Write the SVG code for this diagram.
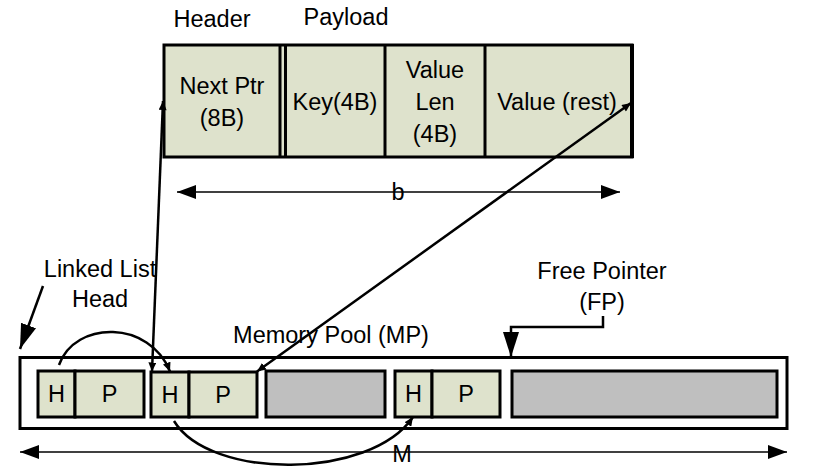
<svg xmlns="http://www.w3.org/2000/svg" width="821" height="473" viewBox="0 0 821 473">
<style>
text{font-family:"Liberation Sans",Arial,sans-serif;font-size:23.5px;fill:#000;text-anchor:middle}
.cell{fill:#dee2cc;stroke:#000;stroke-width:3}
.gray{fill:#bfbfbf;stroke:#000;stroke-width:3}
.div{stroke:#000;stroke-width:3}
.conn{fill:none;stroke:#000;stroke-width:2.5}
.dim{fill:none;stroke:#000;stroke-width:1.5}
</style>
<defs>
<marker id="big" markerUnits="userSpaceOnUse" markerWidth="26" markerHeight="18" refX="25" refY="8" orient="auto"><path d="M0,0 L25,8 L0,16 Z" fill="#000"/></marker>
<marker id="dimE" markerUnits="userSpaceOnUse" markerWidth="20" markerHeight="14" refX="19" refY="7" orient="auto"><path d="M0,0 L19,7 L0,14 Z" fill="#000"/></marker>
<marker id="dimS" markerUnits="userSpaceOnUse" markerWidth="20" markerHeight="14" refX="0" refY="7" orient="auto"><path d="M19,0 L0,7 L19,14 Z" fill="#000"/></marker>
<marker id="smE" markerUnits="userSpaceOnUse" markerWidth="10" markerHeight="8" refX="9" refY="4" orient="auto"><path d="M0,0 L9,4 L0,8 Z" fill="#000"/></marker>
<marker id="smS" markerUnits="userSpaceOnUse" markerWidth="10" markerHeight="8" refX="0" refY="4" orient="auto"><path d="M9,0 L0,4 L9,8 Z" fill="#000"/></marker>
</defs>

<g id="record">
<rect x="164" y="45" width="468" height="112" fill="#dee2cc" stroke="#000" stroke-width="3"/>
<line class="div" x1="280" y1="45" x2="280" y2="157"/>
<line class="div" x1="285.5" y1="45" x2="285.5" y2="157"/>
<line class="div" x1="385" y1="45" x2="385" y2="157"/>
<line class="div" x1="485" y1="45" x2="485" y2="157"/>
<line x1="632" y1="44" x2="632" y2="158" stroke="#000" stroke-width="4"/>
<text x="222" y="94">Next Ptr</text>
<text x="222" y="126">(8B)</text>
<text x="335" y="110">Key(4B)</text>
<text x="435" y="78">Value</text>
<text x="435" y="110">Len</text>
<text x="435" y="142">(4B)</text>
<text x="557" y="110">Value (rest)</text>
</g>
<g id="header-label"><text x="212" y="27">Header</text></g>
<g id="payload-label"><text x="346" y="25">Payload</text></g>

<g id="b-dim">
<line class="dim" x1="177" y1="192" x2="620" y2="192" marker-start="url(#dimS)" marker-end="url(#dimE)"/>
<text x="398" y="200">b</text>
</g>

<g id="pool">
<rect x="20" y="357.5" width="767" height="71" fill="#fff" stroke="#000" stroke-width="3"/>
</g>
<g id="pool-label"><text x="331" y="343">Memory Pool (MP)</text></g>

<g id="block1">
<rect class="cell" x="38" y="371" width="37" height="46"/>
<rect class="cell" x="75" y="371" width="69" height="46"/>
<text x="56.5" y="402">H</text>
<text x="109.5" y="402">P</text>
</g>
<g id="block2">
<rect class="cell" x="151" y="372" width="38" height="45"/>
<rect class="cell" x="189" y="372" width="68" height="45"/>
<text x="170" y="403">H</text>
<text x="223" y="403">P</text>
</g>
<g id="free1"><rect class="gray" x="266" y="371" width="119" height="46"/></g>
<g id="block3">
<rect class="cell" x="395" y="371" width="37" height="46"/>
<rect class="cell" x="432" y="371" width="68" height="46"/>
<text x="413.5" y="402">H</text>
<text x="466" y="402">P</text>
</g>
<g id="free2"><rect class="gray" x="512" y="371" width="265" height="46"/></g>

<g id="ll-label">
<text x="100" y="277">Linked List</text>
<text x="100" y="307">Head</text>
</g>
<g id="fp-label">
<text x="602" y="279">Free Pointer</text>
<text x="602" y="310">(FP)</text>
</g>

<g id="M-dim">
<line class="dim" x1="20" y1="452" x2="787" y2="452" marker-start="url(#dimS)" marker-end="url(#dimE)"/>
<text x="402" y="462">M</text>
</g>

<g id="connectors">
<line class="conn" x1="43" y1="286" x2="20" y2="349" marker-end="url(#big)"/>
<path class="conn" d="M603,316 V327 H511 V357" marker-end="url(#big)"/>
<path class="conn" d="M59,365 C75,320 150,320 170,371.5" marker-end="url(#smE)"/>
<line class="conn" x1="163" y1="101" x2="152" y2="371.5" marker-start="url(#smS)" marker-end="url(#smE)"/>
<line class="conn" x1="631" y1="103" x2="257" y2="371.5" marker-start="url(#smS)" marker-end="url(#smE)"/>
<path class="conn" d="M174,421 C210,480 370,480 413,417" marker-end="url(#smE)"/>
</g>
</svg>
